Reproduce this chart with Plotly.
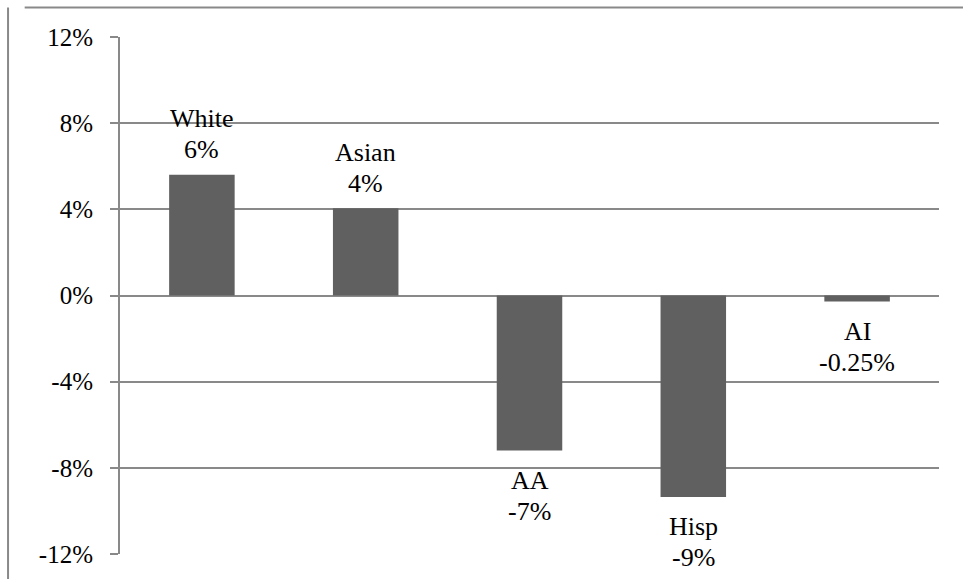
import plotly.graph_objects as go

categories = ["White", "Asian", "AA", "Hisp", "AI"]
values = [5.6, 4.05, -7.2, -9.35, -0.28]
value_labels = ["6%", "4%", "-7%", "-9%", "-0.25%"]
tick_values = [-12, -8, -4, 0, 4, 8, 12]
tick_labels = ["-12%", "-8%", "-4%", "0%", "4%", "8%", "12%"]

GRID = "#898989"
FONT = "Liberation Serif"

fig = go.Figure()
fig.add_trace(go.Bar(x=categories, y=values, marker=dict(color="#606060", line=dict(width=0)),
                     hoverinfo="skip", showlegend=False))

lab_font = dict(family=FONT, size=26, color="black")
for c, v, lab in zip(categories, values, value_labels):
    pos = v >= 0
    if pos:
        shifts = (56, 25)
    else:
        shifts = (-30, -61)
    fig.add_annotation(x=c, y=v, xref="x", yref="y", text=c, showarrow=False,
                       yanchor="middle", yshift=shifts[0], font=lab_font)
    fig.add_annotation(x=c, y=v, xref="x", yref="y", text=lab, showarrow=False,
                       yanchor="middle", yshift=shifts[1], font=lab_font)

fig.update_layout(
    width=963, height=579,
    margin=dict(l=120, r=24, t=37, b=25),
    paper_bgcolor="white", plot_bgcolor="white",
    bargap=0.6,
    font=dict(family=FONT, size=25, color="black"),
    xaxis=dict(showticklabels=False, showgrid=False, zeroline=False, showline=False, ticks=""),
    yaxis=dict(range=[-12, 12], tickvals=tick_values, ticktext=tick_labels,
               showgrid=True, gridcolor=GRID, gridwidth=2, zeroline=False,
               showline=True, linecolor=GRID, linewidth=2,
               ticks="outside", ticklen=8, tickcolor=GRID, tickwidth=2,
               ticklabelstandoff=12,
               tickfont=dict(family=FONT, size=25, color="black")),
    shapes=[
        dict(type="line", xref="paper", yref="paper", x0=-0.1164, x1=1.1, y0=1.057, y1=1.057,
             line=dict(color=GRID, width=2)),
        dict(type="line", xref="paper", yref="paper", x0=-0.1367, x1=-0.1367, y0=1.057, y1=-0.2,
             line=dict(color=GRID, width=2)),
    ],
)

fig.write_html("out.html")
